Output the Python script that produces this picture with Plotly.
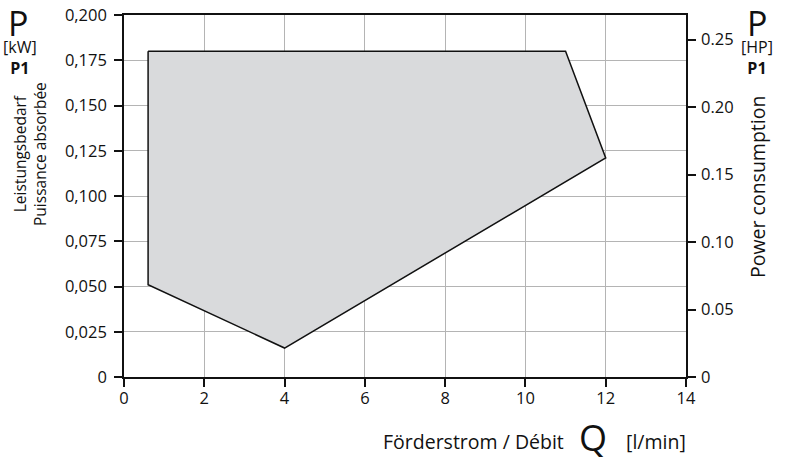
import plotly.graph_objects as go

# Data
flow_lpm = [0.6, 11.0, 12.0, 4.0, 0.6, 0.6]
power_kw = [0.180, 0.180, 0.121, 0.016, 0.051, 0.180]

x_ticks = [0, 2, 4, 6, 8, 10, 12, 14]
y_kw_ticks = [0, 0.025, 0.05, 0.075, 0.1, 0.125, 0.15, 0.175, 0.2]
y_kw_labels = ["0", "0,025", "0,050", "0,075", "0,100", "0,125", "0,150", "0,175", "0,200"]
y_hp_ticks = [0, 0.05, 0.10, 0.15, 0.20, 0.25]
y_hp_labels = ["0", "0.05", "0.10", "0.15", "0.20", "0.25"]
KW_PER_HP = 0.7457

W, H = 807, 461
# plot area in page pixels
L, R, T, B = 124, 686, 15, 377
FONT = "Open Sans"
INK = "#111111"

def px(x):
    return (x - L) / (R - L)

def py(y):
    return (B - y) / (B - T)

fig = go.Figure()
fig.add_trace(go.Scatter(
    x=flow_lpm, y=power_kw, mode="lines", fill="toself",
    fillcolor="#d9dadc", line=dict(color=INK, width=1.5),
    hoverinfo="skip", showlegend=False,
))
fig.add_trace(go.Scatter(
    x=[0], y=[0], yaxis="y2", mode="markers", marker=dict(opacity=0),
    hoverinfo="skip", showlegend=False,
))

axis_common = dict(
    showline=True, linecolor=INK, linewidth=1.6,
    ticks="outside", ticklen=8, tickwidth=1.6, tickcolor=INK,
    tickfont=dict(family=FONT, size=16.5, color=INK),
    zeroline=False, ticklabeloverflow="allow", automargin=False,
)

fig.update_layout(
    template="none",
    width=W, height=H,
    margin=dict(l=L, r=W - R, t=T, b=H - B, pad=0),
    plot_bgcolor="white", paper_bgcolor="white",
    font=dict(family=FONT, color=INK),
    xaxis=dict(range=[0, 14], tickvals=x_ticks, showgrid=True,
               gridcolor="#b4b4b4", gridwidth=1.3, mirror=True,
               ticklabelstandoff=-3, **axis_common),
    yaxis=dict(range=[0, 0.2], tickvals=y_kw_ticks, ticktext=y_kw_labels,
               showgrid=True, gridcolor="#b4b4b4", gridwidth=1.3,
               ticklabelstandoff=4, **axis_common),
    yaxis2=dict(range=[0, 0.2 / KW_PER_HP], tickvals=y_hp_ticks, ticktext=y_hp_labels,
                overlaying="y", side="right", showgrid=False,
                ticklabelstandoff=2, **axis_common),
)

ann = []
def add(text, x, y, size=15, angle=0, xanchor="center", yanchor="middle"):
    ann.append(dict(text=text, x=px(x), y=py(y), xref="paper", yref="paper",
                    showarrow=False, textangle=angle, xanchor=xanchor, yanchor=yanchor,
                    font=dict(family=FONT, size=size, color=INK)))

# left labels
add("P", 18, 23, size=34)
add("[kW]<br><b>P1</b>", 20, 58, size=16)
add("Leistungsbedarf<br>Puissance absorbée", 30, 154, size=15.5, angle=-90)
# right labels
add("P", 757, 23, size=34)
add("[HP]<br><b>P1</b>", 757, 58, size=16)
add("Power consumption", 757, 187, size=19.5, angle=-90)
# bottom
add("Förderstrom / Débit", 566, 441, size=19.5, xanchor="right")
add("Q", 593, 437, size=36)
add("[l/min]", 624, 441, size=19.5, xanchor="left")

fig.update_layout(annotations=ann)
fig.write_html("out.html", config={"displayModeBar": False},
               post_script="document.body.style.margin='0px';")
